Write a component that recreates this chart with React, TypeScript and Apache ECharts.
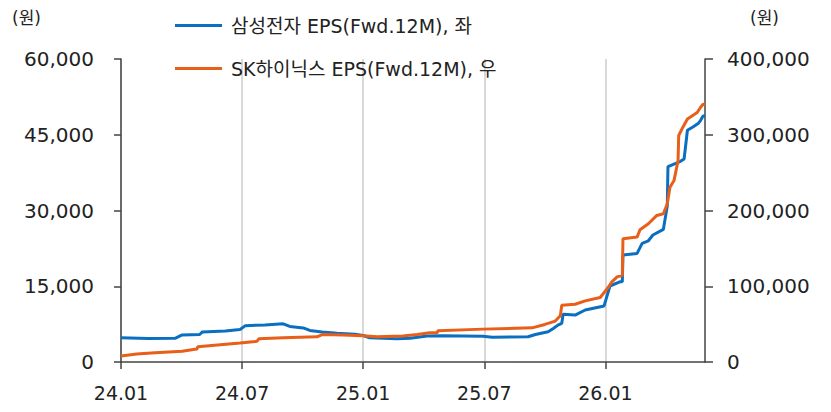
import React, { useEffect, useRef } from "react";
import * as echarts from "echarts";

// ---- data ----
const samsungDates = [
  "2024-01-01", "2024-02-11", "2024-03-22", "2024-04-02", "2024-04-28", "2024-05-02",
  "2024-06-06", "2024-06-28", "2024-07-06", "2024-08-05", "2024-09-02", "2024-09-12",
  "2024-10-02", "2024-10-12", "2024-10-31", "2024-11-22", "2024-12-19", "2025-01-01",
  "2025-01-11", "2025-02-20", "2025-03-11", "2025-04-06", "2025-04-28", "2025-06-29",
  "2025-07-13", "2025-09-06", "2025-09-17", "2025-10-06", "2025-10-14", "2025-10-21",
  "2025-10-27", "2025-10-29", "2025-11-16", "2025-12-01", "2025-12-30", "2026-01-08",
  "2026-01-24", "2026-01-27", "2026-01-28", "2026-02-17", "2026-02-24", "2026-03-05",
  "2026-03-12", "2026-03-28", "2026-04-03", "2026-04-04", "2026-04-22", "2026-04-28",
  "2026-05-03", "2026-05-12", "2026-05-20", "2026-05-23", "2026-05-27", "2026-05-30",
];
const samsungEps = [
  4800, 4650, 4700, 5350, 5450, 5950,
  6150, 6450, 7200, 7350, 7550, 7050,
  6750, 6250, 5950, 5700, 5500, 5250,
  4800, 4600, 4700, 5150, 5200, 5100,
  4900, 5000, 5450, 6000, 6650, 7300,
  7650, 9450, 9300, 10300, 11100, 15050,
  15900, 15900, 21200, 21500, 23500, 24000,
  25150, 26250, 30900, 38700, 39700, 40200,
  45900, 46600, 47300, 47800, 48700, 48700,
];

const hynixDates = [
  "2024-01-01", "2024-01-25", "2024-02-21", "2024-04-02", "2024-04-21", "2024-04-24",
  "2024-04-25", "2024-05-21", "2024-06-28", "2024-07-21", "2024-07-24", "2024-07-27",
  "2024-09-02", "2024-10-23", "2024-11-01", "2024-12-01", "2025-01-01", "2025-01-22",
  "2025-02-28", "2025-03-22", "2025-04-10", "2025-04-21", "2025-04-22", "2025-06-29",
  "2025-09-12", "2025-10-01", "2025-10-17", "2025-10-24", "2025-10-25", "2025-10-27",
  "2025-11-16", "2025-12-01", "2025-12-24", "2026-01-04", "2026-01-11", "2026-01-19",
  "2026-01-27", "2026-01-28", "2026-02-17", "2026-02-21", "2026-03-05", "2026-03-18",
  "2026-03-28", "2026-04-03", "2026-04-07", "2026-04-13", "2026-04-19", "2026-04-20",
  "2026-04-26", "2026-05-03", "2026-05-18", "2026-05-23", "2026-05-27", "2026-05-30",
];
const hynixEps = [
  7900, 10500, 12200, 14100, 16700, 17000,
  20000, 22000, 25000, 27200, 27500, 30800,
  32000, 33300, 36400, 35500, 34600, 33300,
  34200, 36400, 38500, 38600, 41200, 43400,
  45100, 49600, 54000, 60500, 62000, 75000,
  76300, 80700, 85100, 97000, 105700, 112300,
  114500, 162800, 164900, 174600, 182500, 193500,
  195700, 208900, 230700, 239500, 265800, 299000,
  309700, 320700, 329400, 336000, 340400, 339500,
];

const xTickDates = ["2024-01-01", "2024-07-01", "2025-01-01", "2025-07-01", "2026-01-01"];
const xTickLabels = ["24.01", "24.07", "25.01", "25.07", "26.01"];
const xStart = "2024-01-01";
const xEnd = "2026-05-30";

const leftTicks = [0, 15000, 30000, 45000, 60000];
const rightTicks = [0, 100000, 200000, 300000, 400000];

const seriesNames = ["삼성전자 EPS(Fwd.12M), 좌", "SK하이닉스 EPS(Fwd.12M), 우"];
const unitLabel = "(원)";

// ---- helpers ----
function monthIndex(d: string): number {
  const [y, m, day] = d.split("-").map(Number);
  const dim = new Date(y, m, 0).getDate();
  return (y - 2024) * 12 + (m - 1) + (day - 1) / dim;
}
function fmt(v: number): string {
  return Math.round(v).toLocaleString("en-US");
}

const FONT = "'DejaVu Sans', 'Noto Sans CJK KR', sans-serif";
const TEXT = "#222222";
const AXIS = "#444444";
const BLUE = "#0a6fc0";
const ORANGE = "#e85f1a";

export default function App() {
  const ref = useRef<HTMLDivElement>(null);
  useEffect(() => {
    document.body.style.margin = "0";
    if (!ref.current) return;
    const chart = echarts.init(ref.current, null, { renderer: "svg" });
    const xTickVals = xTickDates.map(monthIndex);
    const labelMap = new Map<number, string>();
    xTickVals.forEach((v, i) => labelMap.set(Math.round(v * 1000), xTickLabels[i]));

    chart.setOption({
      animation: false,
      textStyle: { fontFamily: FONT },
      grid: { left: 121, right: 126, top: 59, bottom: 50 },
      legend: {
        orient: "vertical",
        left: 170,
        top: 11,
        itemGap: 24,
        icon: "rect",
        itemWidth: 47,
        itemHeight: 3,
        textStyle: { fontSize: 19, color: TEXT, fontFamily: FONT, padding: [0, 0, 0, 4] },
        data: seriesNames,
      },
      xAxis: {
        type: "value",
        min: monthIndex(xStart),
        max: monthIndex(xEnd),
        axisLine: { show: true, onZero: false, lineStyle: { color: AXIS, width: 1.5 } },
        axisTick: {
          show: true,
          length: 7,
          customValues: xTickVals,
          lineStyle: { color: AXIS, width: 1.5 },
        },
        axisLabel: {
          customValues: xTickVals,
          fontSize: 19,
          color: TEXT,
          margin: 21,
          fontFamily: FONT,
          formatter: (v: number) => labelMap.get(Math.round(v * 1000)) ?? "",
        },
        splitLine: { show: true, lineStyle: { color: "#d9d9d9", width: 2 } },
      },
      yAxis: [
        {
          type: "value",
          min: leftTicks[0],
          max: leftTicks[leftTicks.length - 1],
          interval: leftTicks[1] - leftTicks[0],
          position: "left",
          axisLine: { show: true, lineStyle: { color: AXIS, width: 1.5 } },
          axisTick: { show: true, length: 7, lineStyle: { color: AXIS, width: 1.5 } },
          axisLabel: { fontSize: 20, color: TEXT, margin: 27, fontFamily: FONT, formatter: fmt },
          splitLine: { show: false },
        },
        {
          type: "value",
          min: rightTicks[0],
          max: rightTicks[rightTicks.length - 1],
          interval: rightTicks[1] - rightTicks[0],
          position: "right",
          axisLine: { show: true, lineStyle: { color: AXIS, width: 1.5 } },
          axisTick: { show: true, length: 8, lineStyle: { color: AXIS, width: 1.5 } },
          axisLabel: { fontSize: 20, color: TEXT, margin: 22, fontFamily: FONT, formatter: fmt },
          splitLine: { show: false },
        },
      ],
      graphic: [
        { type: "text", left: 12, top: 9, style: { text: unitLabel, fontSize: 17, fill: TEXT, fontFamily: FONT } },
        { type: "text", left: 750, top: 9, style: { text: unitLabel, fontSize: 17, fill: TEXT, fontFamily: FONT } },
      ],
      series: [
        {
          name: seriesNames[0],
          type: "line",
          yAxisIndex: 0,
          showSymbol: false,
          lineStyle: { color: BLUE, width: 3 },
          itemStyle: { color: BLUE },
          data: samsungDates.map((d, i) => [monthIndex(d), samsungEps[i]]),
          z: 3,
        },
        {
          name: seriesNames[1],
          type: "line",
          yAxisIndex: 1,
          showSymbol: false,
          lineStyle: { color: ORANGE, width: 3 },
          itemStyle: { color: ORANGE },
          data: hynixDates.map((d, i) => [monthIndex(d), hynixEps[i]]),
          z: 4,
        },
      ],
    });
    return () => chart.dispose();
  }, []);
  return <div ref={ref} style={{ width: 831, height: 412 }} />;
}
